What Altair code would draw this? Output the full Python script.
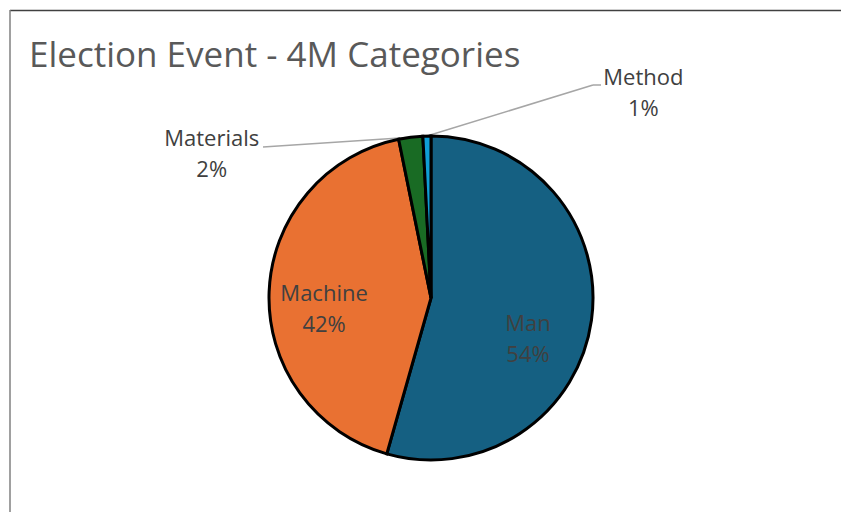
import altair as alt
import pandas as pd

# ---- data ----
categories = ["Man", "Machine", "Materials", "Method"]
values = [54.4, 42.4, 2.4, 0.8]
colors = ["#156082", "#E97132", "#196B24", "#0F9ED5"]
title_text = "Election Event - 4M Categories"

df = pd.DataFrame({"cat": categories, "value": values, "order": list(range(len(categories)))})

# ---- layout (style) ----
PL, PT = 21, 84
W, H = 820, 428
R = 162
FONT = "Open Sans"

base = (
    alt.Chart(df)
    .transform_joinaggregate(total="sum(value)")
    .transform_window(cum="sum(value)", sort=[alt.SortField("order")])
    .transform_calculate(
        mid="2*PI*(datum.cum - datum.value/2)/datum.total",
        lx=f"{W/2} + {R}*sin(datum.mid)",
        ly=f"{H/2} - {R}*cos(datum.mid)",
        tx=f"{W/2} + 106*sin(datum.mid)",
        ty=f"{H/2} - 106*cos(datum.mid)",
        lab="datum.cat + '\\n' + format(datum.value/datum.total, '.0%')",
    )
)

pie = base.mark_arc(outerRadius=R, stroke="black", strokeWidth=3, strokeJoin="miter").encode(
    theta=alt.Theta("value:Q", stack=True),
    order=alt.Order("order:Q"),
    color=alt.Color("cat:N", scale=alt.Scale(domain=categories, range=colors), legend=None),
)

# label anchor = point at 106px along mid-angle, plus nudges (style)
label_style = {
    "Man": dict(dx=-8, dy=11.5),
    "Machine": dict(dx=-1, dy=-0.5),
    "Materials": dict(dx=-206, dy=-53.5),
    "Method": dict(dx=215, dy=-114.5),
}

label_layers = []
for c in categories:
    s = label_style[c]
    label_layers.append(
        base.transform_filter(alt.datum.cat == c)
        .mark_text(
            dx=s["dx"], dy=s["dy"], font=FONT, fontSize=22,
            color="#404040", lineBreak="\n", lineHeight=31, baseline="middle", align="center",
        )
        .encode(
            x=alt.X("tx:Q", scale=None, axis=None),
            y=alt.Y("ty:Q", scale=None, axis=None),
            text="lab:N",
        )
    )

# leader lines
LEAD = "#A6A6A6"
lead_method = base.transform_filter(alt.datum.cat == "Method").mark_rule(color=LEAD, strokeWidth=1.5).encode(
    x=alt.X("lx:Q", scale=None, axis=None), y=alt.Y("ly:Q", scale=None, axis=None),
    x2=alt.value(593 - PL), y2=alt.value(85 - PT),
)
lead_method2 = base.transform_filter(alt.datum.cat == "Method").mark_rule(color=LEAD, strokeWidth=1.5).encode(
    x=alt.value(593 - PL), x2=alt.value(601 - PL), y=alt.value(85 - PT),
)
lead_mat = base.transform_filter(alt.datum.cat == "Materials").mark_rule(color=LEAD, strokeWidth=1.5).encode(
    x=alt.X("lx:Q", scale=None, axis=None), y=alt.Y("ly:Q", scale=None, axis=None),
    x2=alt.value(263 - PL), y2=alt.value(147 - PT),
)

one = alt.Chart(pd.DataFrame({"t": [title_text]}))
title = one.mark_text(font=FONT, fontSize=35, color="#595959", align="left", baseline="alphabetic").encode(
    text="t:N", x=alt.value(29 - PL), y=alt.value(67 - PT)
)
border_top = one.mark_rule(color="#404040", strokeWidth=1.5).encode(
    x=alt.value(10 - PL), x2=alt.value(W + 10), y=alt.value(10.5 - PT)
)
border_left = one.mark_rule(color="#808080", strokeWidth=1.5).encode(
    x=alt.value(10 - PL), y=alt.value(10 - PT), y2=alt.value(H + 10)
)

chart = (
    alt.layer(border_top, border_left, title, lead_method, lead_method2, lead_mat, pie, *label_layers)
    .properties(
        width=W, height=H,
        padding={"left": PL, "top": PT, "right": 0, "bottom": 0},
        autosize=alt.AutoSizeParams(type="none"),
        background="white",
    )
    .configure_view(stroke=None)
)

chart.save("out.html", embed_options={"renderer": "svg", "actions": False})
